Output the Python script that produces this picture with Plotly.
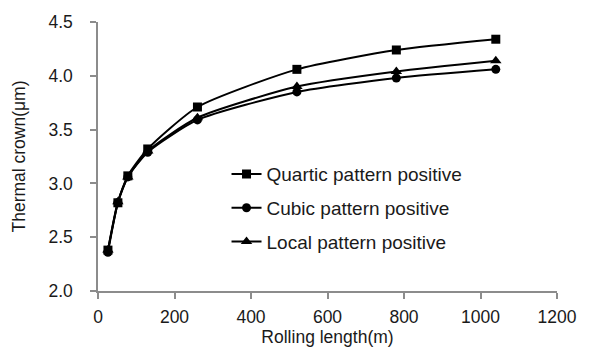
import plotly.graph_objects as go

rolling_length = [26, 52, 78, 130, 260, 520, 780, 1040]
quartic = [2.38, 2.82, 3.07, 3.32, 3.71, 4.06, 4.24, 4.34]
cubic = [2.36, 2.82, 3.06, 3.29, 3.59, 3.85, 3.98, 4.06]
local = [2.38, 2.83, 3.06, 3.30, 3.61, 3.90, 4.04, 4.14]

names = ["Quartic pattern positive", "Cubic pattern positive", "Local pattern positive"]
symbols = ["square", "circle", "triangle-up"]
sizes = [9, 9, 10]

FONT = "Liberation Sans, Arial"
fig = go.Figure()
for i, (name, vals, sym, sz) in enumerate(zip(names, [quartic, cubic, local], symbols, sizes)):
    fig.add_trace(go.Scatter(
        x=rolling_length, y=vals, name=name, mode="lines+markers",
        legendgroup=f"g{i}",
        line=dict(color="black", width=2, shape="spline", smoothing=0.6),
        marker=dict(symbol=sym, size=sz, color="black"),
    ))

axis_common = dict(
    showline=True, linecolor="#8c8c8c", linewidth=1.5,
    ticks="outside", tickcolor="#8c8c8c", ticklen=6, tickwidth=1.5,
    showgrid=False, zeroline=False,
    tickfont=dict(family=FONT, size=17.5, color="#1a1a1a"),
)
fig.update_layout(
    width=589, height=353,
    margin=dict(l=98, r=29, t=17, b=62),
    paper_bgcolor="white", plot_bgcolor="white",
    font=dict(family=FONT, color="#1a1a1a"),
    xaxis=dict(range=[0, 1200], dtick=200, ticklabelstandoff=3,
               title=dict(text="Rolling length(m)", font=dict(size=17.5), standoff=0), **axis_common),
    yaxis=dict(range=[2.0, 4.5], dtick=0.5, tickformat=".1f", ticklabelstandoff=14,
               title=dict(text="Thermal crown(μm)", font=dict(size=17.5), standoff=18), **axis_common),
    legend=dict(x=0.28, y=0.505, xanchor="left", yanchor="top", bgcolor="rgba(0,0,0,0)",
                font=dict(size=19, family=FONT, color="#1a1a1a"),
                itemwidth=30, traceorder="grouped", tracegroupgap=6),
    showlegend=True,
)
fig.write_html("out.html")
